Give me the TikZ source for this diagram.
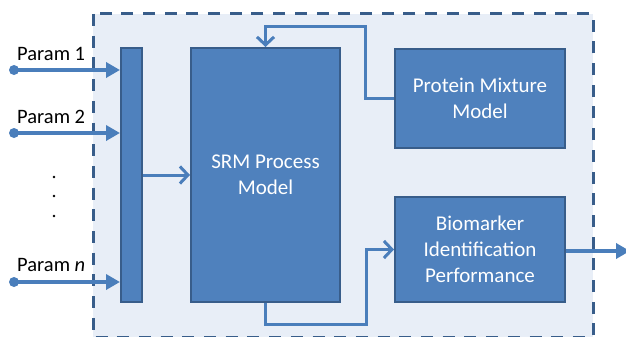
\documentclass[tikz,border=0pt]{standalone}
\usepackage{fontspec}
\setmainfont{Carlito}
\usetikzlibrary{arrows.meta,positioning}
\definecolor{boxblue}{HTML}{4F81BD}
\definecolor{boxline}{HTML}{385D8A}
\definecolor{arrowblue}{HTML}{4A7EBB}
\definecolor{panelfill}{HTML}{E8EEF7}

\begin{document}
\begin{tikzpicture}[x=1pt, y=-1pt, block/.style={rectangle, draw=boxline, line width=2pt, fill=boxblue, text=white, align=center, inner sep=0pt, font=\fontsize{21}{26}\selectfont}, paramlabel/.style={anchor=base west, inner sep=0pt, font=\fontsize{20.5}{24}\selectfont}, thickflow/.style={draw=arrowblue, line width=4.6pt, -{Triangle[length=14pt, width=15pt]}}, flow/.style={draw=arrowblue, line width=3pt, -{Straight Barb[length=8pt, width=17pt, line width=3pt]}}]

  \useasboundingbox (0,0) rectangle (626,337);

  % panel
  \fill[panelfill] (93,14) rectangle (593,337);
  \draw[boxline, line width=3pt, dash pattern=on 12pt off 9.7pt] (93,14) rectangle (593,337);

  \node[block, minimum width=21pt, minimum height=254pt] (mux) at (131.5,175) {};
  \node[block, minimum width=149pt, minimum height=254pt] (srm) at (265.5,175) {SRM Process\\Model};
  \node[block, minimum width=170pt, minimum height=99pt] (protein) at (480,98.5) {Protein Mixture\\Model};
  \node[block, minimum width=170pt, minimum height=105pt] (biomarker) at (480,249.5) {Biomarker\\Identification\\Performance};

  % inputs
  \node[coordinate] (in1) at (14,70) {};
  \node[coordinate] (in2) at (14,133) {};
  \node[coordinate] (inn) at (14,282) {};
  \node[paramlabel] (lab1) at (17,60) {Param 1};
  \node[paramlabel] (lab2) at (17,123) {Param 2};
  \node[paramlabel] (labn) at (17,271) {Param \textit{n}};
  \foreach \p in {in1,in2,inn} {
    \fill[arrowblue] (\p) circle (5pt);
    \draw[thickflow] (\p) -- (\p -| mux.west);
  }
  \foreach \y in {177,196,216} \fill (54,\y) circle (1.4pt);

  \draw[flow] (mux.east) -- (srm.west);
  \draw[flow] (protein.west) -- ++(-29,0) |- ([yshift=20pt]srm.north) -- (srm.north);
  \draw[flow] (srm.south) -- ++(0,21) -| ([xshift=-28pt]biomarker.west) -- (biomarker.west);

  \node[coordinate] (out) at (630,251) {};
  \draw[thickflow] (biomarker.east |- out) -- (out);
\end{tikzpicture}
\end{document}
